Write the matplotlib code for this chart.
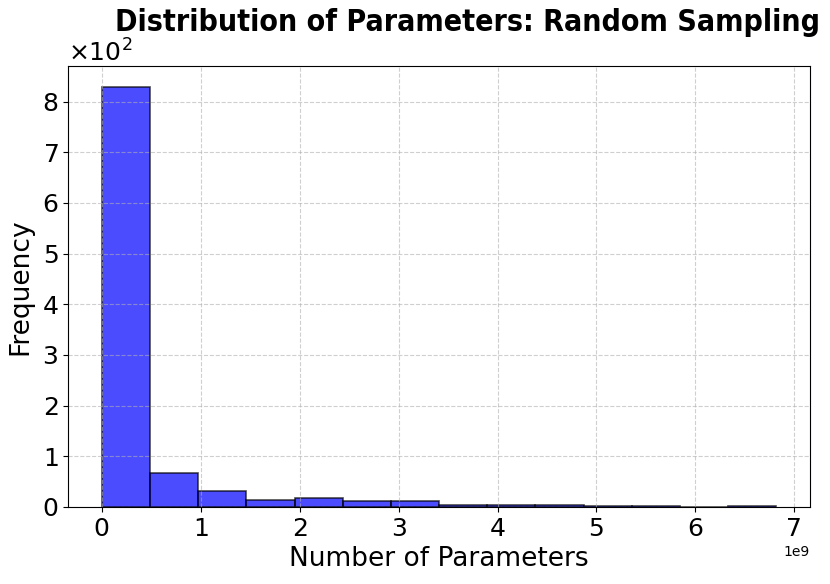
import numpy as np
import matplotlib.pyplot as plt
from matplotlib.ticker import MultipleLocator

# bin edges (in units of parameters) and counts
bin_width = 0.487e9
n_bins = 14
counts = [829, 67, 31, 14, 18, 11, 11, 4, 3, 4, 2, 1, 0, 1]

edges = np.arange(n_bins + 1) * bin_width
centers = (edges[:-1] + edges[1:]) / 2

fig, ax = plt.subplots(figsize=(8.3, 5.84), dpi=100)
ax.hist(centers, bins=edges, weights=counts, color='blue', alpha=0.7,
        edgecolor='black', linewidth=1.2)

ax.set_title('Distribution of Parameters: Random Sampling', fontsize=21.7,
             fontweight='bold', fontstretch='condensed', loc='left', x=0.063)
ax.set_xlabel('Number of Parameters', fontsize=19)
ax.set_ylabel('Frequency', fontsize=19, labelpad=6)
ax.tick_params(axis='both', labelsize=18)
ax.yaxis.set_major_locator(MultipleLocator(100))
ax.ticklabel_format(axis='y', style='sci', scilimits=(0, 0), useMathText=True)
ax.yaxis.get_offset_text().set_fontsize(18)
ax.grid(True, linestyle='--', alpha=0.6)

plt.subplots_adjust(left=0.082, right=0.976, bottom=0.132, top=0.887)
plt.savefig('out.png')
